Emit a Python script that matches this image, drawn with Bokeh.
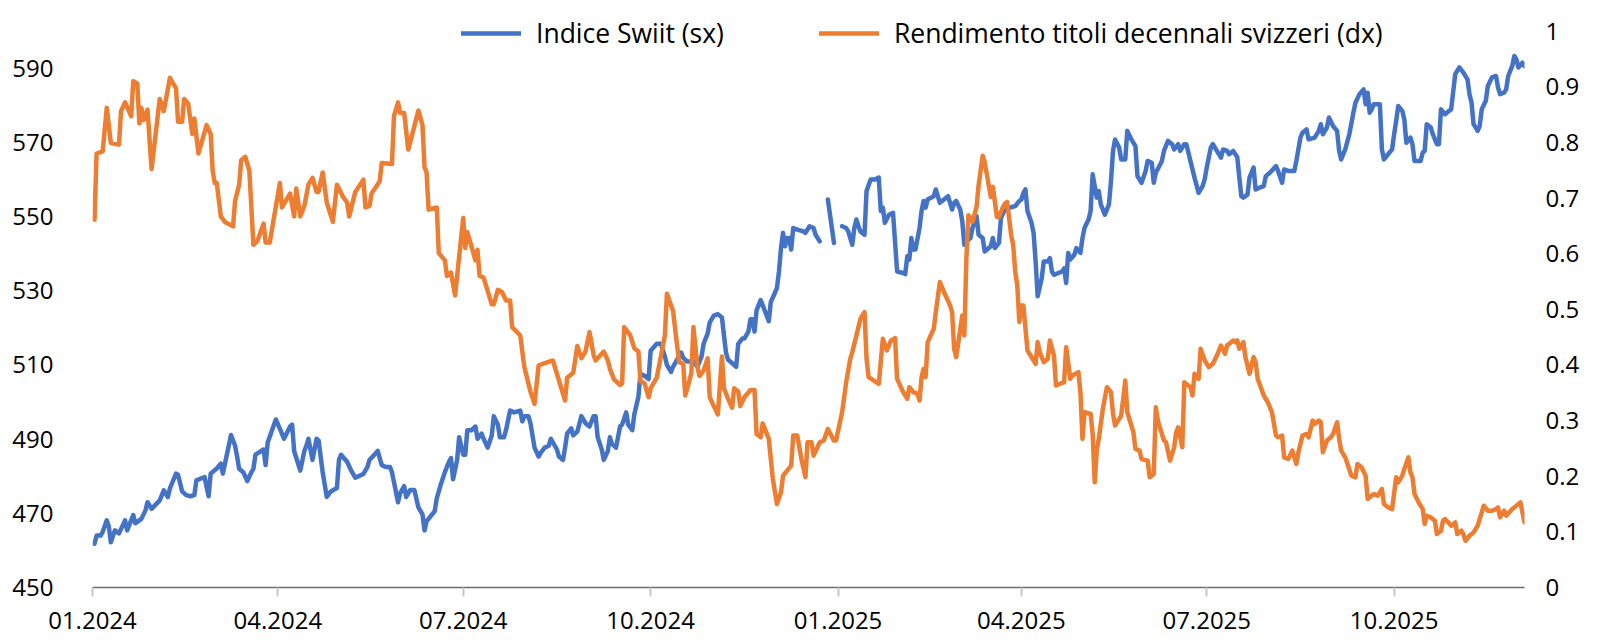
import numpy as np
import pandas as pd
from bokeh.plotting import figure
from bokeh.models import (Range1d, LinearAxis, FixedTicker, DatetimeTickFormatter,
                          CustomJSTickFormatter, Legend, LegendItem, ColumnDataSource)
from bokeh.embed import file_html
from bokeh.resources import INLINE

NAN = float("nan")

# ---------------- data ----------------
swiit_dates = [
    "2024-01-02","2024-01-03","2024-01-05","2024-01-06","2024-01-08","2024-01-09","2024-01-10","2024-01-12",
    "2024-01-14","2024-01-17","2024-01-18","2024-01-21","2024-01-22","2024-01-25","2024-01-27","2024-01-28",
    "2024-01-30","2024-02-03","2024-02-05","2024-02-07","2024-02-08","2024-02-11","2024-02-12","2024-02-14",
    "2024-02-16","2024-02-18","2024-02-20","2024-02-21","2024-02-25","2024-02-27","2024-02-28","2024-03-02",
    "2024-03-04","2024-03-05","2024-03-09","2024-03-11","2024-03-12","2024-03-13","2024-03-15","2024-03-17",
    "2024-03-19","2024-03-20","2024-03-21","2024-03-25","2024-03-26","2024-03-27","2024-03-31","2024-04-03",
    "2024-04-04","2024-04-07","2024-04-08","2024-04-09","2024-04-12","2024-04-14","2024-04-15","2024-04-16",
    "2024-04-18","2024-04-20","2024-04-21","2024-04-23","2024-04-25","2024-04-27","2024-04-30","2024-05-01",
    "2024-05-02","2024-05-05","2024-05-07","2024-05-09","2024-05-11","2024-05-13","2024-05-15","2024-05-16",
    "2024-05-20","2024-05-22","2024-05-24","2024-05-26","2024-05-27","2024-05-30","2024-05-31","2024-06-02",
    "2024-06-03","2024-06-05","2024-06-07","2024-06-09","2024-06-11","2024-06-12","2024-06-13","2024-06-17",
    "2024-06-18","2024-06-20","2024-06-22","2024-06-24","2024-06-25","2024-06-26","2024-06-28","2024-06-29",
    "2024-07-01","2024-07-02","2024-07-03","2024-07-05","2024-07-07","2024-07-08","2024-07-10","2024-07-11",
    "2024-07-13","2024-07-15","2024-07-16","2024-07-18","2024-07-19","2024-07-21","2024-07-22","2024-07-24",
    "2024-07-26","2024-07-29","2024-07-30","2024-07-31","2024-08-02","2024-08-03","2024-08-05","2024-08-07",
    "2024-08-08","2024-08-10","2024-08-12","2024-08-13","2024-08-16","2024-08-17","2024-08-19","2024-08-20",
    "2024-08-21","2024-08-23","2024-08-24","2024-08-26","2024-08-28","2024-08-30","2024-09-01","2024-09-03",
    "2024-09-04","2024-09-05","2024-09-07","2024-09-08","2024-09-10","2024-09-11","2024-09-12","2024-09-14",
    "2024-09-16","2024-09-17","2024-09-19","2024-09-20","2024-09-22","2024-09-23","2024-09-25","2024-09-26",
    "2024-09-28","2024-09-30","2024-10-01","2024-10-04","2024-10-06","2024-10-08","2024-10-09","2024-10-11",
    "2024-10-12","2024-10-14","2024-10-16","2024-10-17","2024-10-19","2024-10-22","2024-10-24","2024-10-26",
    "2024-10-27","2024-10-29","2024-10-30","2024-11-01","2024-11-03","2024-11-05","2024-11-06","2024-11-07",
    "2024-11-08","2024-11-10","2024-11-12","2024-11-13","2024-11-15","2024-11-16","2024-11-18","2024-11-19",
    "2024-11-20","2024-11-21","2024-11-22","2024-11-24","2024-11-26","2024-11-28","2024-11-29","2024-12-01",
    "2024-12-02","2024-12-03","2024-12-04","2024-12-05","2024-12-06","2024-12-07","2024-12-08","2024-12-09",
    "2024-12-10","2024-12-12","2024-12-15","2024-12-16","2024-12-18","2024-12-20","2024-12-21","2024-12-23",
    "2024-12-25","2024-12-27","2024-12-30","2025-01-01","2025-01-03","2025-01-05","2025-01-06","2025-01-08",
    "2025-01-09","2025-01-10","2025-01-11","2025-01-12","2025-01-14","2025-01-15","2025-01-17","2025-01-19",
    "2025-01-21","2025-01-22","2025-01-23","2025-01-24","2025-01-26","2025-01-28","2025-01-30","2025-02-02",
    "2025-02-03","2025-02-04","2025-02-05","2025-02-06","2025-02-07","2025-02-08","2025-02-10","2025-02-11",
    "2025-02-12","2025-02-13","2025-02-14","2025-02-17","2025-02-18","2025-02-20","2025-02-22","2025-02-24",
    "2025-02-26","2025-02-27","2025-02-28","2025-03-02","2025-03-03","2025-03-04","2025-03-06","2025-03-07",
    "2025-03-08","2025-03-10","2025-03-11","2025-03-13","2025-03-14","2025-03-17","2025-03-18","2025-03-19",
    "2025-03-21","2025-03-22","2025-03-24","2025-03-25","2025-03-27","2025-03-29","2025-03-31","2025-04-01",
    "2025-04-02","2025-04-03","2025-04-04","2025-04-06","2025-04-07","2025-04-08","2025-04-09","2025-04-11",
    "2025-04-12","2025-04-14","2025-04-15","2025-04-16","2025-04-17","2025-04-21","2025-04-22","2025-04-23",
    "2025-04-24","2025-04-25","2025-04-27","2025-04-28","2025-04-30","2025-05-01","2025-05-02","2025-05-04",
    "2025-05-05","2025-05-06","2025-05-08","2025-05-09","2025-05-10","2025-05-12","2025-05-14","2025-05-15",
    "2025-05-16","2025-05-17","2025-05-19","2025-05-20","2025-05-22","2025-05-23","2025-05-25","2025-05-27",
    "2025-05-28","2025-05-30","2025-06-01","2025-06-02","2025-06-04","2025-06-05","2025-06-06","2025-06-09",
    "2025-06-10","2025-06-12","2025-06-14","2025-06-15","2025-06-17","2025-06-18","2025-06-20","2025-06-21",
    "2025-06-23","2025-06-25","2025-06-27","2025-06-29","2025-06-30","2025-07-01","2025-07-03","2025-07-04",
    "2025-07-06","2025-07-08","2025-07-09","2025-07-11","2025-07-12","2025-07-14","2025-07-16","2025-07-17",
    "2025-07-18","2025-07-19","2025-07-21","2025-07-22","2025-07-24","2025-07-25","2025-07-27","2025-07-29",
    "2025-07-30","2025-08-01","2025-08-04","2025-08-05","2025-08-07","2025-08-08","2025-08-10","2025-08-13",
    "2025-08-14","2025-08-16","2025-08-17","2025-08-19","2025-08-20","2025-08-23","2025-08-25","2025-08-26",
    "2025-08-27","2025-08-29","2025-08-30","2025-09-01","2025-09-03","2025-09-04","2025-09-05","2025-09-07",
    "2025-09-09","2025-09-11","2025-09-12","2025-09-14","2025-09-16","2025-09-17","2025-09-18","2025-09-19",
    "2025-09-20","2025-09-21","2025-09-24","2025-09-25","2025-09-26","2025-09-28","2025-09-30","2025-10-01",
    "2025-10-02","2025-10-03","2025-10-05","2025-10-06","2025-10-07","2025-10-09","2025-10-10","2025-10-11",
    "2025-10-12","2025-10-14","2025-10-15","2025-10-16","2025-10-17","2025-10-19","2025-10-20","2025-10-22",
    "2025-10-23","2025-10-24","2025-10-26","2025-10-28","2025-10-29","2025-10-31","2025-11-02","2025-11-04",
    "2025-11-06","2025-11-07","2025-11-08","2025-11-09","2025-11-11","2025-11-12","2025-11-13","2025-11-15",
    "2025-11-16","2025-11-18","2025-11-20","2025-11-21","2025-11-22","2025-11-24","2025-11-25","2025-11-26",
    "2025-11-28","2025-11-29","2025-11-30","2025-12-01","2025-12-03","2025-12-04",
]
swiit_values = [
    461.8,464.0,464.0,465.0,468.1,466.5,462.2,465.4,
    464.6,468.1,465.4,469.5,467.3,468.5,470.8,473.0,
    471.2,473.5,476.2,474.4,476.7,480.7,480.4,475.9,
    474.9,474.6,474.9,478.9,479.8,474.6,480.7,482.1,
    483.4,480.7,491.1,488.2,485.3,482.0,481.1,478.7,
    481.1,482.0,485.8,487.2,483.0,489.1,495.3,491.5,
    490.1,493.4,493.9,486.8,481.5,486.8,488.2,490.1,
    484.4,490.1,489.6,481.1,474.4,475.9,476.8,484.4,
    485.8,483.9,481.5,479.6,480.1,480.6,482.5,484.4,
    486.8,483.0,482.5,482.5,481.1,473.0,475.4,477.3,
    474.4,476.3,476.3,471.6,469.7,465.4,467.8,470.6,
    474.0,477.8,481.1,483.9,484.9,479.2,484.4,490.5,
    485.8,485.8,492.4,492.4,493.4,490.1,491.5,490.1,
    487.7,491.0,496.2,493.9,490.5,490.5,492.4,497.7,
    497.2,497.7,494.8,496.2,496.2,494.3,487.7,485.3,
    486.3,487.7,488.2,490.1,487.2,485.3,484.4,487.7,
    491.5,492.9,491.0,492.0,496.2,494.3,493.4,496.2,
    496.2,490.5,487.2,484.4,486.8,490.5,488.7,487.7,
    493.4,493.9,497.2,493.9,492.4,496.7,501.4,507.6,
    507.1,506.2,513.8,515.7,515.7,512.3,510.0,508.1,
    509.5,511.4,513.3,511.9,510.9,510.9,509.5,512.3,
    515.7,518.5,521.4,523.3,523.7,522.8,518.0,513.3,
    511.4,510.5,509.5,515.7,517.1,517.1,519.0,522.3,
    522.3,519.0,524.7,527.5,524.7,521.8,527.0,529.4,
    530.7,535.2,541.5,545.6,542.0,544.2,544.2,541.1,
    546.9,546.5,546.0,545.6,547.4,546.9,545.1,543.3,
    NAN,554.6,542.9,NAN,547.4,546.9,546.0,542.4,
    546.9,549.2,547.4,546.0,545.1,556.9,560.0,560.0,
    560.5,551.5,552.4,548.3,550.5,551.0,535.2,534.8,
    534.5,539.3,538.4,544.2,541.1,541.1,546.9,551.5,
    554.2,552.4,554.6,555.5,557.3,553.7,554.6,555.5,
    551.9,553.7,554.2,551.9,548.7,542.4,543.8,544.2,
    546.9,550.1,545.1,544.2,540.6,542.0,544.2,541.5,
    542.9,549.7,552.0,552.0,552.5,552.8,554.2,554.6,
    556.4,557.3,551.5,548.3,545.6,537.9,528.5,533.4,
    537.9,537.9,538.8,535.2,534.3,535.2,536.0,532.1,
    540.2,538.4,539.7,541.5,540.2,544.2,546.9,549.2,
    551.5,561.4,555.1,556.9,553.3,550.5,553.3,559.6,
    567.7,570.8,568.6,565.4,565.4,573.1,570.8,569.0,
    560.9,559.1,562.3,565.0,564.5,559.1,561.8,565.0,
    567.7,570.4,569.5,568.1,569.5,567.7,569.5,569.5,
    565.0,560.5,556.4,558.2,560.0,563.2,568.6,569.5,
    567.7,565.9,568.1,567.7,566.8,567.7,566.0,560.5,
    555.5,555.1,555.9,560.5,563.2,557.3,557.8,558.2,
    560.9,561.8,563.6,562.3,559.1,562.7,562.3,562.3,
    565.0,571.3,572.6,573.5,570.8,571.3,573.1,574.9,
    572.2,574.0,576.7,574.4,573.1,567.7,565.4,568.1,
    572.2,578.0,580.7,583.0,584.3,580.3,583.4,578.0,
    578.9,580.3,580.3,568.1,565.4,566.8,568.1,572.2,
    575.8,579.8,578.5,576.2,569.9,571.3,569.5,565.0,
    565.0,565.0,567.2,567.7,574.9,574.0,572.2,569.5,
    569.5,578.9,577.6,578.5,578.9,588.4,590.2,588.8,
    587.0,583.0,580.7,574.9,573.1,574.4,578.9,581.2,
    585.2,587.5,587.9,584.8,583.0,583.4,584.3,587.9,
    590.6,593.3,592.4,590.2,591.5,590.6,
]

yield_dates = [
    "2024-01-02","2024-01-03","2024-01-06","2024-01-08","2024-01-10","2024-01-14","2024-01-15","2024-01-17",
    "2024-01-20","2024-01-21","2024-01-23","2024-01-24","2024-01-25","2024-01-26","2024-01-28","2024-01-30",
    "2024-02-03","2024-02-05","2024-02-08","2024-02-11","2024-02-12","2024-02-14","2024-02-15","2024-02-17",
    "2024-02-19","2024-02-20","2024-02-22","2024-02-26","2024-02-28","2024-02-29","2024-03-01","2024-03-02",
    "2024-03-04","2024-03-06","2024-03-10","2024-03-11","2024-03-13","2024-03-14","2024-03-16","2024-03-18",
    "2024-03-20","2024-03-22","2024-03-25","2024-03-26","2024-03-28","2024-04-02","2024-04-03","2024-04-07",
    "2024-04-09","2024-04-10","2024-04-12","2024-04-14","2024-04-16","2024-04-18","2024-04-20","2024-04-21",
    "2024-04-23","2024-04-25","2024-04-28","2024-04-30","2024-05-03","2024-05-05","2024-05-06","2024-05-09",
    "2024-05-13","2024-05-14","2024-05-16","2024-05-17","2024-05-21","2024-05-22","2024-05-27","2024-05-28",
    "2024-05-30","2024-05-31","2024-06-02","2024-06-04","2024-06-09","2024-06-11","2024-06-12","2024-06-13",
    "2024-06-14","2024-06-18","2024-06-19","2024-06-22","2024-06-23","2024-06-25","2024-06-27","2024-07-01",
    "2024-07-02","2024-07-03","2024-07-07","2024-07-08","2024-07-09","2024-07-11","2024-07-15","2024-07-16",
    "2024-07-18","2024-07-20","2024-07-22","2024-07-24","2024-07-25","2024-07-29","2024-07-31","2024-08-03",
    "2024-08-05","2024-08-07","2024-08-09","2024-08-14","2024-08-20","2024-08-21","2024-08-24","2024-08-26",
    "2024-08-28","2024-08-30","2024-09-01","2024-09-03","2024-09-04","2024-09-08","2024-09-10","2024-09-11",
    "2024-09-13","2024-09-16","2024-09-17","2024-09-18","2024-09-21","2024-09-23","2024-09-25","2024-09-26",
    "2024-09-28","2024-09-30","2024-10-01","2024-10-04","2024-10-06","2024-10-08","2024-10-09","2024-10-12",
    "2024-10-13","2024-10-15","2024-10-17","2024-10-18","2024-10-20","2024-10-21","2024-10-22","2024-10-24",
    "2024-10-25","2024-10-27","2024-10-29","2024-10-30","2024-11-01","2024-11-03","2024-11-05","2024-11-06",
    "2024-11-08","2024-11-10","2024-11-11","2024-11-13","2024-11-14","2024-11-16","2024-11-19","2024-11-21",
    "2024-11-22","2024-11-24","2024-11-25","2024-11-28","2024-11-30","2024-12-02","2024-12-04","2024-12-05",
    "2024-12-07","2024-12-09","2024-12-10","2024-12-12","2024-12-14","2024-12-16","2024-12-17","2024-12-19",
    "2024-12-20","2024-12-23","2024-12-25","2024-12-27","2024-12-30","2024-12-31","2025-01-03","2025-01-05",
    "2025-01-07","2025-01-08","2025-01-10","2025-01-12","2025-01-14","2025-01-15","2025-01-16","2025-01-21",
    "2025-01-23","2025-01-25","2025-01-27","2025-01-29","2025-01-30","2025-02-02","2025-02-04","2025-02-05",
    "2025-02-07","2025-02-09","2025-02-10","2025-02-11","2025-02-12","2025-02-13","2025-02-14","2025-02-17",
    "2025-02-18","2025-02-20","2025-02-22","2025-02-25","2025-02-26","2025-02-27","2025-02-28","2025-03-03",
    "2025-03-04","2025-03-05","2025-03-06","2025-03-08","2025-03-10","2025-03-11","2025-03-13","2025-03-14",
    "2025-03-17","2025-03-18","2025-03-20","2025-03-21","2025-03-23","2025-03-24","2025-03-25","2025-03-27",
    "2025-03-28","2025-03-29","2025-03-30","2025-03-31","2025-04-01","2025-04-02","2025-04-04","2025-04-08",
    "2025-04-09","2025-04-10","2025-04-12","2025-04-14","2025-04-15","2025-04-17","2025-04-18","2025-04-22",
    "2025-04-23","2025-04-25","2025-04-26","2025-04-29","2025-04-30","2025-05-01","2025-05-02","2025-05-05",
    "2025-05-06","2025-05-07","2025-05-08","2025-05-09","2025-05-11","2025-05-13","2025-05-15","2025-05-16",
    "2025-05-17","2025-05-20","2025-05-21","2025-05-22","2025-05-23","2025-05-26","2025-05-27","2025-05-29",
    "2025-05-30","2025-06-02","2025-06-03","2025-06-05","2025-06-06","2025-06-07","2025-06-10","2025-06-11",
    "2025-06-13","2025-06-15","2025-06-16","2025-06-17","2025-06-19","2025-06-20","2025-06-23","2025-06-24",
    "2025-06-25","2025-06-27","2025-06-28","2025-06-30","2025-07-02","2025-07-04","2025-07-06","2025-07-08",
    "2025-07-10","2025-07-11","2025-07-14","2025-07-15","2025-07-16","2025-07-17","2025-07-19","2025-07-20",
    "2025-07-22","2025-07-24","2025-07-25","2025-07-26","2025-07-29","2025-07-31","2025-08-02","2025-08-04",
    "2025-08-05","2025-08-07","2025-08-08","2025-08-10","2025-08-12","2025-08-14","2025-08-15","2025-08-17",
    "2025-08-19","2025-08-20","2025-08-22","2025-08-23","2025-08-25","2025-08-26","2025-08-27","2025-08-29",
    "2025-08-31","2025-09-01","2025-09-03","2025-09-04","2025-09-05","2025-09-07","2025-09-10","2025-09-12",
    "2025-09-13","2025-09-15","2025-09-17","2025-09-18","2025-09-21","2025-09-23","2025-09-25","2025-09-26",
    "2025-09-28","2025-09-30","2025-10-02","2025-10-03","2025-10-05","2025-10-06","2025-10-08","2025-10-09",
    "2025-10-10","2025-10-11","2025-10-13","2025-10-15","2025-10-16","2025-10-17","2025-10-19","2025-10-21",
    "2025-10-22","2025-10-24","2025-10-25","2025-10-26","2025-10-29","2025-10-31","2025-11-01","2025-11-03",
    "2025-11-04","2025-11-05","2025-11-07","2025-11-09","2025-11-11","2025-11-12","2025-11-14","2025-11-16",
    "2025-11-18","2025-11-20","2025-11-21","2025-11-22","2025-11-24","2025-11-25","2025-11-28","2025-11-29",
    "2025-12-02","2025-12-03","2025-12-04",
]
yield_values = [
    0.661,0.780,0.784,0.862,0.799,0.796,0.856,0.872,
    0.847,0.910,0.906,0.834,0.862,0.840,0.859,0.752,
    0.878,0.856,0.916,0.897,0.837,0.837,0.878,0.869,
    0.815,0.843,0.780,0.831,0.815,0.749,0.727,0.727,
    0.667,0.657,0.649,0.695,0.724,0.768,0.774,0.749,
    0.616,0.623,0.654,0.620,0.620,0.727,0.683,0.708,
    0.667,0.717,0.667,0.686,0.724,0.736,0.711,0.711,
    0.746,0.692,0.657,0.724,0.702,0.692,0.667,0.711,
    0.733,0.683,0.686,0.708,0.730,0.763,0.761,0.847,
    0.872,0.853,0.853,0.787,0.857,0.831,0.755,0.746,
    0.679,0.683,0.601,0.588,0.560,0.566,0.525,0.664,
    0.610,0.639,0.588,0.607,0.560,0.557,0.509,0.509,
    0.535,0.531,0.516,0.516,0.468,0.453,0.396,0.352,
    0.330,0.399,0.402,0.408,0.336,0.377,0.386,0.434,
    0.412,0.424,0.459,0.418,0.408,0.424,0.408,0.393,
    0.374,0.364,0.367,0.468,0.453,0.430,0.424,0.371,
    0.367,0.342,0.358,0.377,0.415,0.453,0.528,0.497,
    0.465,0.405,0.402,0.345,0.371,0.386,0.468,0.396,
    0.380,0.390,0.412,0.342,0.326,0.311,0.415,0.358,
    0.339,0.323,0.358,0.352,0.326,0.342,0.355,0.355,
    0.276,0.270,0.295,0.267,0.195,0.150,0.171,0.201,
    0.210,0.219,0.273,0.273,0.231,0.198,0.261,0.261,
    0.237,0.261,0.264,0.285,0.264,0.264,0.315,0.369,
    0.411,0.423,0.453,0.483,0.495,0.411,0.378,0.366,
    0.447,0.426,0.444,0.448,0.375,0.351,0.339,0.360,
    0.351,0.348,0.336,0.378,0.393,0.378,0.441,0.465,
    0.495,0.549,0.531,0.507,0.495,0.429,0.414,0.489,
    0.453,0.591,0.669,0.657,0.684,0.723,0.776,0.764,
    0.702,0.720,0.666,0.666,0.684,0.690,0.693,0.633,
    0.615,0.567,0.543,0.477,0.507,0.507,0.426,0.402,
    0.441,0.423,0.405,0.411,0.444,0.417,0.363,0.369,
    0.432,0.375,0.381,0.387,0.351,0.267,0.315,0.312,
    0.276,0.189,0.246,0.267,0.321,0.360,0.351,0.312,
    0.291,0.309,0.339,0.372,0.315,0.279,0.249,0.246,
    0.231,0.228,0.198,0.204,0.324,0.300,0.264,0.261,
    0.228,0.252,0.279,0.288,0.252,0.369,0.360,0.345,
    0.384,0.375,0.429,0.408,0.396,0.402,0.417,0.435,
    0.420,0.435,0.444,0.441,0.444,0.429,0.441,0.414,
    0.384,0.414,0.405,0.375,0.345,0.333,0.315,0.273,
    0.270,0.273,0.234,0.231,0.246,0.222,0.243,0.273,
    0.276,0.270,0.300,0.294,0.300,0.297,0.243,0.264,
    0.270,0.276,0.297,0.267,0.246,0.234,0.201,0.198,
    0.222,0.216,0.201,0.159,0.168,0.165,0.177,0.150,
    0.144,0.141,0.198,0.189,0.201,0.213,0.234,0.207,
    0.198,0.168,0.153,0.141,0.114,0.129,0.126,0.120,
    0.096,0.102,0.120,0.123,0.111,0.117,0.096,0.102,
    0.096,0.084,0.093,0.099,0.111,0.123,0.147,0.138,
    0.138,0.141,0.144,0.126,0.138,0.129,0.141,0.144,
    0.153,0.135,0.117,
]

x_start = "2024-01-01"
x_end = "2025-12-04"
quarter_ticks = ["2024-01-01", "2024-04-01", "2024-07-01", "2024-10-01",
                 "2025-01-01", "2025-04-01", "2025-07-01", "2025-10-01"]
left_ticks = [450, 470, 490, 510, 530, 550, 570, 590]
right_ticks = [0, 0.1, 0.2, 0.3, 0.4, 0.5, 0.6, 0.7, 0.8, 0.9, 1.0]
label_swiit = "Indice Swiit (sx)"
label_yield = "Rendimento titoli decennali svizzeri (dx)"

BLUE = "#4472C4"
ORANGE = "#ED7D31"
FONT = "Open Sans"
FS = "24px"
LEGEND_FS = "26.5px"

src_swiit = ColumnDataSource(dict(date=pd.to_datetime(swiit_dates),
                                  value=np.array(swiit_values, dtype=float)))
src_yield = ColumnDataSource(dict(date=pd.to_datetime(yield_dates),
                                  value=np.array(yield_values, dtype=float)))

# the plotting frame extends a little above the top tick so the legend has room
p = figure(width=1600, height=636, x_axis_type="datetime",
           output_backend="svg", toolbar_location=None,
           x_range=Range1d(pd.Timestamp(x_start), pd.Timestamp(x_end)),
           y_range=Range1d(450, 606.63),
           min_border_left=92, min_border_right=76,
           min_border_top=6, min_border_bottom=49)
p.extra_y_ranges = {"yield": Range1d(0, 1.0442)}
p.outline_line_color = None
p.xgrid.visible = False
p.ygrid.visible = False
p.background_fill_color = "white"
p.border_fill_color = "white"

r_swiit = p.line("date", "value", source=src_swiit, line_color=BLUE, line_width=4.5,
                 line_join="round", line_cap="round")
r_yield = p.line("date", "value", source=src_yield, line_color=ORANGE, line_width=4.5,
                 line_join="round", line_cap="round", y_range_name="yield")

# x axis
xa = p.xaxis[0]
xa.ticker = FixedTicker(ticks=[pd.Timestamp(t).timestamp() * 1000 for t in quarter_ticks])
xa.formatter = DatetimeTickFormatter(days="%m.%Y", months="%m.%Y", years="%m.%Y")
xa.axis_line_color = "#6b6b6b"
xa.axis_line_width = 1.5
xa.major_tick_line_color = "#c8c8c8"
xa.major_tick_line_width = 2
xa.major_tick_in = 0
xa.major_tick_out = 9
xa.minor_tick_line_color = None
xa.major_label_standoff = 15
xa.major_label_text_font = FONT
xa.major_label_text_font_size = FS
xa.major_label_text_color = "#000000"

# left axis
ya = p.yaxis[0]
ya.ticker = FixedTicker(ticks=left_ticks)
ya.axis_line_color = None
ya.major_tick_line_color = None
ya.minor_tick_line_color = None
ya.major_tick_out = 0
ya.major_tick_in = 0
ya.major_label_standoff = 39
ya.major_label_text_font = FONT
ya.major_label_text_font_size = FS
ya.major_label_text_color = "#000000"

# right axis
ra = LinearAxis(y_range_name="yield", ticker=FixedTicker(ticks=right_ticks),
                formatter=CustomJSTickFormatter(code="return String(Number(tick.toFixed(1)));"))
ra.axis_line_color = None
ra.major_tick_line_color = None
ra.minor_tick_line_color = None
ra.major_tick_out = 0
ra.major_tick_in = 0
ra.major_label_standoff = 21
ra.major_label_text_font = FONT
ra.major_label_text_font_size = FS
ra.major_label_text_color = "#000000"
p.add_layout(ra, "right")

legend = Legend(items=[LegendItem(label=label_swiit, renderers=[r_swiit]),
                       LegendItem(label=label_yield, renderers=[r_yield])],
                orientation="horizontal", location=(369, 536),
                border_line_color=None, background_fill_alpha=0,
                padding=0, margin=0, spacing=95, glyph_width=60, label_standoff=15,
                label_text_font=FONT, label_text_font_size=LEGEND_FS, label_text_color="#000000")
p.add_layout(legend, "center")

open("out.html", "w").write(file_html(p, INLINE))
